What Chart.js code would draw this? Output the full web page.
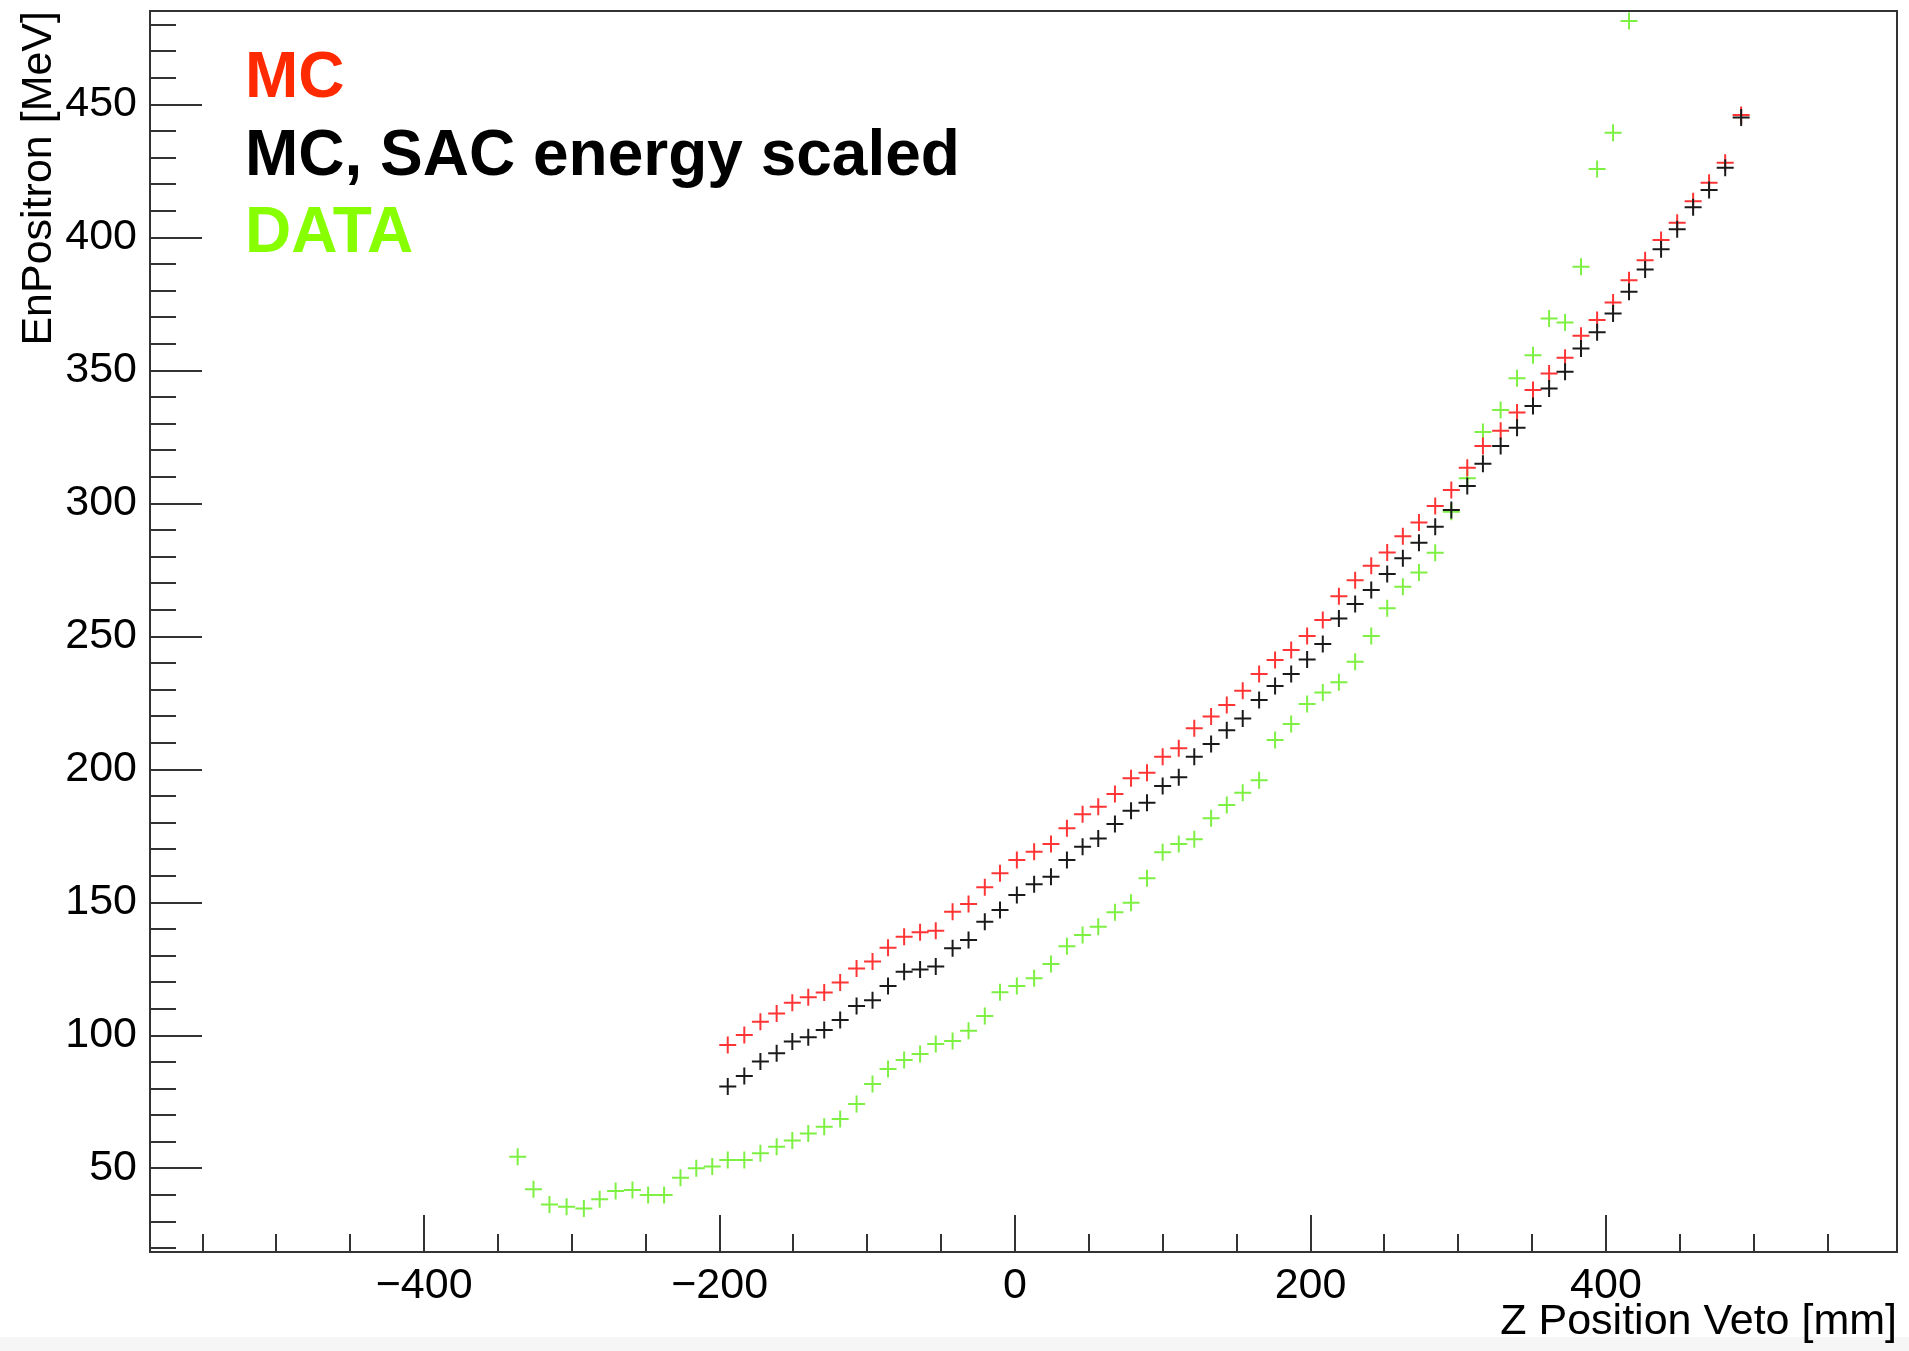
<!DOCTYPE html>
<html>
<head>
<meta charset="utf-8">
<script src="https://cdn.jsdelivr.net/npm/chart.js@4.4.0/dist/chart.umd.min.js"></script>
<style>
html, body { margin: 0; padding: 0; background: #fff; }
</style>
</head>
<body>
<canvas id="grafica" width="1909" height="1351"></canvas>
<script>
// posiciones z de los bins (mm)
const zBins = [
  -336.7, -326.0, -315.2, -303.6, -291.9, -281.2, -270.4, -259.0, -248.4, -237.6,
  -226.5, -215.8, -205.0, -194.5, -183.3, -172.4, -161.4, -150.8, -140.0, -129.2,
  -118.4, -107.3, -96.5, -86.0, -75.1, -64.3, -53.7, -42.3, -31.5, -20.5,
  -10.2, 1.2, 12.9, 24.3, 35.1, 45.7, 56.3, 67.6, 78.5, 89.3,
  99.9, 110.8, 121.3, 132.7, 143.3, 154.1, 165.2, 176.0, 186.9, 197.7,
  208.3, 219.2, 230.2, 241.1, 251.9, 262.5, 273.4, 284.4, 295.3, 306.1,
  316.7, 328.7, 339.8, 350.6, 361.5, 372.3, 383.1, 394.0, 404.8, 415.6,
  426.5, 437.3, 448.2, 459.0, 469.8, 480.7, 491.5
]
// DATA empieza en el primer bin, MC en el bin 13
const zData = zBins.slice(0, 70)
const zMC = zBins.slice(13)

// energía del positrón (MeV)
const enData = [
  54.4, 42.2, 36.5, 35.6, 35.0, 38.4, 41.5, 41.9, 40.0, 40.0,
  46.5, 50.1, 50.7, 53.2, 53.2, 55.7, 58.2, 60.5, 63.2, 65.7,
  68.6, 74.2, 81.8, 87.4, 90.8, 93.0, 96.8, 97.9, 101.8, 107.3,
  116.3, 118.6, 121.5, 126.9, 133.6, 137.8, 140.9, 146.3, 149.9, 159.1,
  168.9, 172.0, 173.8, 181.7, 186.7, 191.3, 196.0, 211.1, 217.1, 224.6,
  229.0, 232.8, 240.5, 250.2, 260.6, 268.7, 274.1, 281.5, 296.9, 309.5,
  326.9, 335.2, 347.1, 355.8, 369.6, 368.1, 389.0, 425.8, 439.4, 481.4
]
const enMC = [
  96.4, 100.2, 105.2, 108.3, 112.3, 114.4, 116.2, 119.9, 125.2, 127.8,
  133.0, 137.1, 138.8, 139.4, 146.5, 149.4, 155.7, 161.0, 166.0, 169.1,
  172.0, 177.9, 183.2, 186.0, 190.8, 196.7, 198.8, 204.8, 208.0, 215.5,
  219.9, 224.3, 229.6, 235.9, 241.2, 244.9, 250.2, 256.2, 265.2, 271.2,
  276.6, 281.6, 287.7, 292.9, 299.1, 305.1, 313.5, 321.6, 327.4, 334.2,
  342.7, 348.9, 354.8, 363.1, 369.0, 375.6, 384.0, 391.5, 399.1, 405.6,
  413.7, 420.6, 428.1, 446.1
]
const enMCScaled = [
  80.8, 84.8, 90.2, 93.3, 97.7, 99.3, 102.1, 105.8, 111.1, 113.3,
  118.6, 124.0, 124.8, 125.9, 132.8, 135.9, 142.8, 147.2, 152.8, 156.9,
  159.7, 166.0, 171.0, 174.1, 179.5, 184.5, 187.5, 193.8, 197.1, 204.8,
  209.6, 214.8, 219.2, 226.1, 231.4, 235.9, 241.4, 247.2, 256.8, 262.2,
  267.5, 273.5, 279.4, 285.3, 291.3, 297.6, 306.6, 315.0, 321.6, 328.5,
  336.7, 343.3, 349.6, 358.3, 364.4, 371.5, 379.6, 388.0, 395.6, 403.1,
  411.4, 417.9, 426.3, 445.2
]

// etiquetas de los ejes
const xTicks = [-400, -200, 0, 200, 400]
const yTicks = [50, 100, 150, 200, 250, 300, 350, 400, 450]

// leyenda de texto (arriba a la izquierda)
const leyendaTextos = ['MC', 'MC, SAC energy scaled', 'DATA']
const leyendaColores = ['#ff2a00', '#000000', '#88ff00']

const fuente = '"Liberation Sans", Arial, Helvetica, sans-serif'

const puntos = (zs, es) => zs.map((z, i) => ({ x: z, y: es[i] }))

// marco, ticks hacia dentro y leyenda al estilo ROOT
const marcoEjes = {
  id: 'marcoEjes',
  beforeDraw(chart) {
    const ctx = chart.ctx
    ctx.save()
    ctx.fillStyle = '#ffffff'
    ctx.fillRect(0, 0, chart.width, chart.height)
    ctx.fillStyle = '#f6f6f6'
    ctx.fillRect(0, 1337, chart.width, chart.height - 1337)
    ctx.restore()
  },
  afterDraw(chart) {
    const { ctx, chartArea: a, scales: { x, y } } = chart
    ctx.save()
    ctx.strokeStyle = '#333333'
    ctx.lineWidth = 2
    ctx.beginPath()
    //ticks del eje x
    for (let v = -550; v <= 550; v += 50) {
      const px = Math.round(x.getPixelForValue(v))
      const largo = v % 200 === 0 ? 37 : 18
      ctx.moveTo(px, a.bottom)
      ctx.lineTo(px, a.bottom - largo)
    }
    //ticks del eje y
    for (let v = 20; v <= 480; v += 10) {
      const py = Math.round(y.getPixelForValue(v))
      const largo = v % 50 === 0 ? 52 : 26
      ctx.moveTo(a.left, py)
      ctx.lineTo(a.left + largo, py)
    }
    ctx.stroke()
    ctx.strokeRect(a.left, a.top, a.right - a.left, a.bottom - a.top)

    ctx.font = `bold 64px ${fuente}`
    ctx.textAlign = 'left'
    ctx.textBaseline = 'alphabetic'
    const bases = [97, 175, 252]
    leyendaTextos.forEach((t, i) => {
      ctx.fillStyle = leyendaColores[i]
      ctx.fillText(t, 245, bases[i])
    })
    ctx.restore()
  }
}

const canva = document.querySelector('#grafica')
const myChart = new Chart(canva, {
  type: 'scatter',
  data: {
    datasets: [
      {
        label: 'MC, SAC energy scaled',
        data: puntos(zMC, enMCScaled),
        pointStyle: 'cross',
        pointRadius: 8.5,
        pointBorderWidth: 2,
        borderColor: '#1a1a1a',
        backgroundColor: '#1a1a1a',
        order: 0
      },
      {
        label: 'MC',
        data: puntos(zMC, enMC),
        pointStyle: 'cross',
        pointRadius: 8.5,
        pointBorderWidth: 2,
        borderColor: '#ff3535',
        backgroundColor: '#ff3535',
        order: 1
      },
      {
        label: 'DATA',
        data: puntos(zData, enData),
        pointStyle: 'cross',
        pointRadius: 8.5,
        pointBorderWidth: 2,
        borderColor: '#7ef043',
        backgroundColor: '#7ef043',
        order: 2
      }
    ]
  },
  options: {
    responsive: false,
    animation: false,
    layout: { padding: { top: 11, right: 12, left: 0, bottom: 0 } },
    plugins: { legend: { display: false }, tooltip: { enabled: false } },
    scales: {
      x: {
        type: 'linear',
        min: -585.6,
        max: 597,
        afterFit: s => { s.height = 99; s.paddingLeft = 0; s.paddingRight = 0 },
        afterBuildTicks: s => { s.ticks = xTicks.map(v => ({ value: v })) },
        grid: { display: false, drawTicks: false },
        border: { display: false },
        ticks: {
          padding: 8,
          color: '#000',
          maxRotation: 0,
          autoSkip: false,
          font: { family: fuente, size: 43 },
          callback: v => v < 0 ? '\u2212' + Math.abs(v) : String(v)
        },
        title: {
          display: true,
          text: 'Z Position Veto [mm]',
          align: 'end',
          color: '#000',
          font: { family: fuente, size: 43 },
          padding: { top: 0, bottom: 3 }
        }
      },
      y: {
        type: 'linear',
        min: 18.6,
        max: 485.2,
        afterFit: s => { s.width = 150; s.paddingTop = 0; s.paddingBottom = 0 },
        afterBuildTicks: s => { s.ticks = yTicks.map(v => ({ value: v })) },
        grid: { display: false, drawTicks: false },
        border: { display: false },
        ticks: {
          padding: 13,
          color: '#000',
          autoSkip: false,
          font: { family: fuente, size: 43 }
        },
        title: {
          display: true,
          text: 'EnPositron [MeV]',
          align: 'end',
          color: '#000',
          font: { family: fuente, size: 43 },
          padding: { top: 13, bottom: 0 }
        }
      }
    }
  },
  plugins: [marcoEjes]
})
</script>
</body>
</html>
